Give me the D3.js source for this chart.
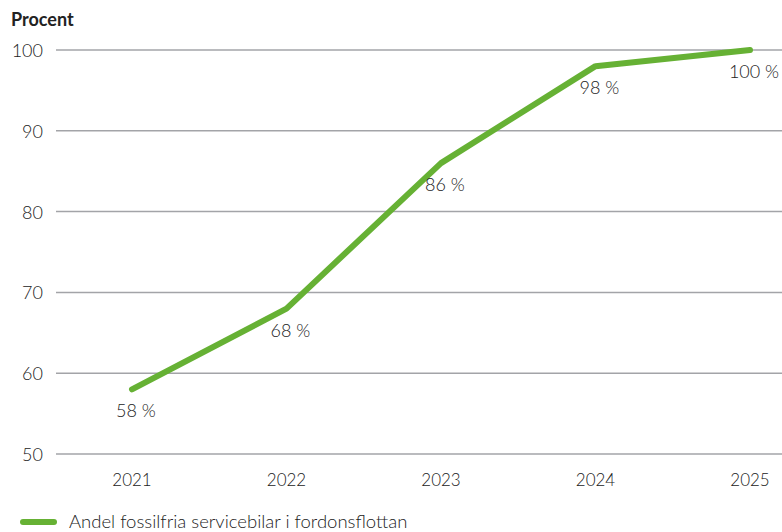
<!DOCTYPE html>
<html>
<head>
<meta charset="utf-8">
<script src="https://cdn.jsdelivr.net/npm/d3@7"></script>
<style>
  body { margin: 0; background: #fff; }
  text { font-family: Lato, "Open Sans", sans-serif; fill: #222; }
</style>
</head>
<body>
<svg id="chart" width="782" height="532"></svg>
<script>
// data
const years = ['2021', '2022', '2023', '2024', '2025']
const andel = [58, 68, 86, 98, 100]
const yTicks = [50, 60, 70, 80, 90, 100]
const seriesName = 'Andel fossilfria servicebilar i fordonsflottan'

const svg = d3.select('#chart')
const green = '#66b134'

const x = d3.scalePoint().domain(years).range([132, 750])
const y = d3.scaleLinear().domain([50, 100]).range([454, 50])

// gridlines + y labels
svg.append('g')
  .selectAll('line')
  .data(yTicks)
  .enter()
  .append('line')
  .attr('x1', 56).attr('x2', 782)
  .attr('y1', d => y(d)).attr('y2', d => y(d))
  .attr('stroke', '#a3a4a8')
  .attr('stroke-width', 1.5)

svg.append('g')
  .selectAll('text')
  .data(yTicks)
  .enter()
  .append('text')
  .attr('x', 43)
  .attr('y', d => y(d) + 7)
  .attr('text-anchor', 'end')
  .style('font-size', '18px')
  .style('font-weight', 300)
  .text(d => d)

// x labels
svg.append('g')
  .selectAll('text')
  .data(years)
  .enter()
  .append('text')
  .attr('x', d => x(d))
  .attr('y', 486)
  .attr('text-anchor', 'middle')
  .style('font-size', '17px')
  .style('font-weight', 300)
  .text(d => d)

svg.append('text')
  .attr('x', 11).attr('y', 26)
  .style('font-size', '18px')
  .style('font-weight', 'bold')
  .text('Procent')

// line
const pts = years.map((yr, i) => ({ yr, v: andel[i] }))
const line = d3.line().x(d => x(d.yr)).y(d => y(d.v))

svg.append('path')
  .datum(pts)
  .attr('d', line)
  .attr('fill', 'none')
  .attr('stroke', green)
  .attr('stroke-width', 6)
  .attr('stroke-linecap', 'round')
  .attr('stroke-linejoin', 'round')

svg.append('g')
  .selectAll('text')
  .data(pts)
  .enter()
  .append('text')
  .attr('x', d => x(d.yr) + 4)
  .attr('y', d => y(d.v) + 28)
  .attr('text-anchor', 'middle')
  .style('font-size', '18px')
  .style('font-weight', 300)
  .text(d => d.v + ' %')

// legend
svg.append('line')
  .attr('x1', 23).attr('x2', 54)
  .attr('y1', 522).attr('y2', 522)
  .attr('stroke', green)
  .attr('stroke-width', 6)
  .attr('stroke-linecap', 'round')

svg.append('text')
  .attr('x', 69).attr('y', 528)
  .style('font-size', '18.5px')
  .style('font-weight', 300)
  .text(seriesName)
</script>
</body>
</html>
